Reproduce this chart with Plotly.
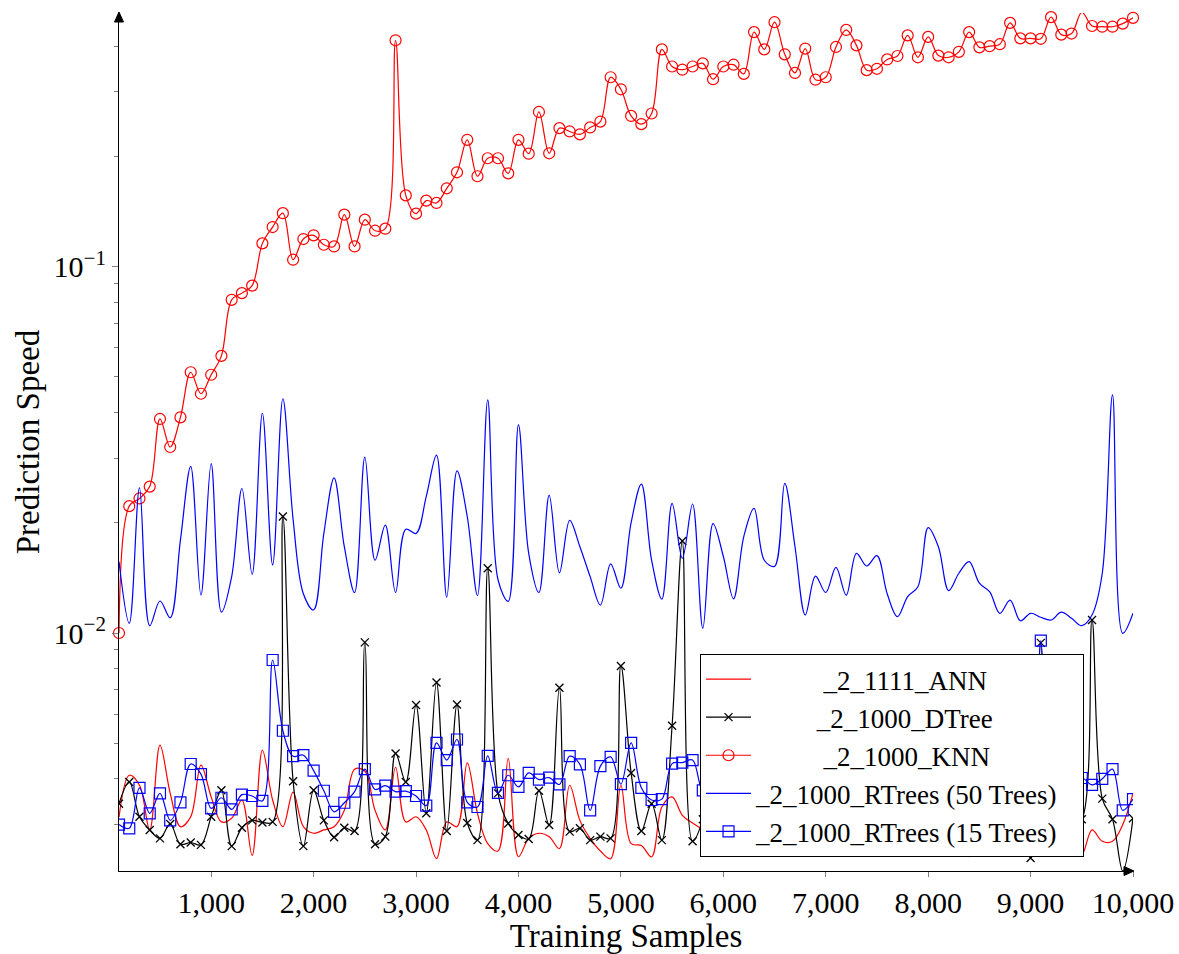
import plotly.graph_objects as go

# ---------------- data ----------------
samples = list(range(100, 10001, 100))

ann = [0.00314, 0.00409, 0.00384, 0.00290, 0.00494, 0.00365, 0.00296, 0.00315, 0.00436, 0.00357,
       0.00305, 0.00312, 0.00350, 0.00247, 0.00479, 0.00350, 0.00296, 0.00368, 0.00296, 0.00284,
       0.00290, 0.00296, 0.00328, 0.00425, 0.00420, 0.00328, 0.00290, 0.00430, 0.00305, 0.00315,
       0.00290, 0.00242, 0.00305, 0.00296, 0.00442, 0.00322, 0.00266, 0.00254, 0.00455, 0.00245,
       0.00275, 0.00284, 0.00278, 0.00258, 0.00384, 0.00308, 0.00275, 0.00254, 0.00242, 0.00384,
       0.00266, 0.00263, 0.00245, 0.00335, 0.00357, 0.00318, 0.00303, 0.00293, 0.00310, 0.00290,
       0.00300, 0.00280, 0.00290, 0.00310, 0.00280, 0.00255, 0.00262, 0.00300, 0.00320, 0.00290,
       0.00260, 0.00300, 0.00310, 0.00280, 0.00250, 0.00290, 0.00310, 0.00300, 0.00320, 0.00290,
       0.00280, 0.00252, 0.00290, 0.00245, 0.00300, 0.00310, 0.00270, 0.00258, 0.00290, 0.00245,
       0.00310, 0.00290, 0.00262, 0.00300, 0.00248, 0.00290, 0.00270, 0.00270, 0.00300, 0.00365]

dtree = [0.00342, 0.00392, 0.00315, 0.00290, 0.00275, 0.00301, 0.00265, 0.00268, 0.00264, 0.00315,
         0.00372, 0.00262, 0.00294, 0.00308, 0.00304, 0.00305, 0.02080, 0.00394, 0.00262, 0.00372,
         0.00308, 0.00277, 0.00294, 0.00288, 0.00943, 0.00265, 0.00278, 0.00469, 0.00392, 0.00636,
         0.00322, 0.00733, 0.00288, 0.00638, 0.00303, 0.00272, 0.01503, 0.00365, 0.00302, 0.00281,
         0.00274, 0.00371, 0.00299, 0.00709, 0.00287, 0.00293, 0.00272, 0.00278, 0.00275, 0.00813,
         0.00415, 0.00288, 0.00342, 0.00272, 0.00558, 0.01784, 0.00270, 0.00310, 0.00455, 0.00295,
         0.00330, 0.00620, 0.00300, 0.00345, 0.00290, 0.00385, 0.00540, 0.00298, 0.00322, 0.00292,
         0.00470, 0.00315, 0.00305, 0.00360, 0.00296, 0.00580, 0.00310, 0.00335, 0.00294, 0.00410,
         0.00300, 0.00318, 0.00660, 0.00302, 0.00340, 0.00296, 0.00380, 0.00308, 0.00315, 0.00243,
         0.00940, 0.00300, 0.00330, 0.00298, 0.00310, 0.01085, 0.00353, 0.00310, 0.00224, 0.00312]

knn = [0.0100, 0.0222, 0.0233, 0.0251, 0.0384, 0.0322, 0.0388, 0.0515, 0.0450, 0.0507,
       0.0571, 0.0812, 0.0847, 0.0888, 0.1158, 0.1283, 0.1400, 0.1045, 0.1190, 0.1218,
       0.1148, 0.1136, 0.1387, 0.1136, 0.1344, 0.1254, 0.1270, 0.4150, 0.1566, 0.1396,
       0.1515, 0.1493, 0.1637, 0.1810, 0.2220, 0.1766, 0.1977, 0.1977, 0.1798, 0.2220,
       0.2035, 0.2645, 0.2040, 0.2390, 0.2340, 0.2297, 0.2400, 0.2490, 0.3290, 0.3050,
       0.2580, 0.2450, 0.2620, 0.3920, 0.3520, 0.3450, 0.3520, 0.3590, 0.3250, 0.3520,
       0.3560, 0.3360, 0.4370, 0.3920, 0.4650, 0.3800, 0.3380, 0.3940, 0.3240, 0.3290,
       0.3980, 0.4430, 0.4020, 0.3440, 0.3470, 0.3680, 0.3760, 0.4280, 0.3730, 0.4240,
       0.3770, 0.3730, 0.3860, 0.4370, 0.3970, 0.4000, 0.4050, 0.4630, 0.4200, 0.4200,
       0.4190, 0.4800, 0.4300, 0.4330, 0.4950, 0.4540, 0.4520, 0.4520, 0.4610, 0.4780]

rtrees50 = [0.01566, 0.01062, 0.02490, 0.01047, 0.01223, 0.01100, 0.01795, 0.02850, 0.01270, 0.02900,
            0.01140, 0.01425, 0.02480, 0.01446, 0.03980, 0.01534, 0.04360, 0.02040, 0.01280, 0.01156,
            0.01870, 0.02650, 0.01720, 0.01290, 0.03020, 0.01580, 0.01970, 0.01290, 0.01920, 0.01870,
            0.02360, 0.03060, 0.01252, 0.02770, 0.02080, 0.01265, 0.04330, 0.01400, 0.01220, 0.03700,
            0.01650, 0.01290, 0.02380, 0.01460, 0.02030, 0.01720, 0.01425, 0.01192, 0.01545, 0.01325,
            0.02000, 0.02550, 0.01580, 0.01238, 0.02260, 0.01600, 0.02250, 0.01030, 0.01990, 0.01620,
            0.01240, 0.01834, 0.02190, 0.01580, 0.01520, 0.02560, 0.01720, 0.01120, 0.01430, 0.01290,
            0.01510, 0.01267, 0.01650, 0.01524, 0.01626, 0.01280, 0.01108, 0.01257, 0.01338, 0.01940,
            0.01720, 0.01306, 0.01456, 0.01566, 0.01368, 0.01297, 0.01132, 0.01230, 0.01080, 0.01132,
            0.01104, 0.01085, 0.01140, 0.01097, 0.01047, 0.01120, 0.01456, 0.04470, 0.00998, 0.01132]

rtrees15 = [0.00300, 0.00293, 0.00378, 0.00322, 0.00365, 0.00308, 0.00345, 0.00439, 0.00412, 0.00332,
            0.00355, 0.00330, 0.00362, 0.00359, 0.00348, 0.00844, 0.00541, 0.00461, 0.00464, 0.00421,
            0.00371, 0.00325, 0.00344, 0.00369, 0.00425, 0.00374, 0.00383, 0.00369, 0.00370, 0.00359,
            0.00338, 0.00501, 0.00450, 0.00512, 0.00345, 0.00335, 0.00462, 0.00366, 0.00409, 0.00380,
            0.00415, 0.00398, 0.00403, 0.00386, 0.00461, 0.00438, 0.00328, 0.00433, 0.00459, 0.00387,
            0.00501, 0.00378, 0.00350, 0.00352, 0.00440, 0.00443, 0.00450, 0.00372, 0.00395, 0.00420,
            0.00362, 0.00448, 0.00405, 0.00378, 0.00430, 0.00465, 0.00392, 0.00358, 0.00410, 0.00445,
            0.00388, 0.00372, 0.00425, 0.00398, 0.00360, 0.00415, 0.00452, 0.00402, 0.00380, 0.00428,
            0.00395, 0.00370, 0.00418, 0.00440, 0.00392, 0.00365, 0.00408, 0.00432, 0.00385, 0.00375,
            0.00953, 0.00390, 0.00412, 0.00378, 0.00402, 0.00385, 0.00400, 0.00425, 0.00328, 0.00352]

series_names = ["_2_1111_ANN", "_2_1000_DTree", "_2_1000_KNN",
                "_2_1000_RTrees (50 Trees)", "_2_1000_RTrees (15 Trees)"]
name_pad = [10, 9, 10, 0, 0]

x_tick_vals = [1000, 2000, 3000, 4000, 5000, 6000, 7000, 8000, 9000, 10000]
x_tick_text = ["1,000", "2,000", "3,000", "4,000", "5,000", "6,000", "7,000", "8,000", "9,000", "10,000"]
y_tick_vals = [0.01, 0.1]
y_tick_text = ["10<sup>\u22122</sup>", "10<sup>\u22121</sup>"]
y_minor_vals = [0.003, 0.004, 0.005, 0.006, 0.007, 0.008, 0.009,
                0.02, 0.03, 0.04, 0.05, 0.06, 0.07, 0.08, 0.09,
                0.2, 0.3, 0.4]

x_range = [100, 10000]
y_range_log = [-2.6497, -0.3074]

# ---------------- styling ----------------
FONT = "Liberation Serif"
RED = "#ff0000"
BLUE = "#0000ff"
BLACK = "#000000"
TICKGRAY = "#808080"

PLOT_W = 1179 - 119 - 46
PLOT_H = 954 - 13 - 83


def label(i):
    # centre the legend texts like the reference (padding with non-breaking spaces)
    return "\u00a0" * name_pad[i] + series_names[i] + "\u00a0" * (name_pad[i] + 3)


fig = go.Figure()

fig.add_trace(go.Scatter(x=samples, y=ann, name=label(0), mode="lines",
                         line=dict(color=RED, width=1.2, shape="spline", smoothing=1)))
fig.add_trace(go.Scatter(x=samples, y=dtree, name=label(1), mode="lines+markers",
                         line=dict(color=BLACK, width=1.2, shape="spline", smoothing=1),
                         marker=dict(symbol="x-thin-open", size=8,
                                     line=dict(color=BLACK, width=1.3))))
fig.add_trace(go.Scatter(x=samples, y=knn, name=label(2), mode="lines+markers",
                         line=dict(color=RED, width=1.2, shape="spline", smoothing=1),
                         marker=dict(symbol="circle-open", size=11,
                                     line=dict(color=RED, width=1.2)),
                         cliponaxis=False))
fig.add_trace(go.Scatter(x=samples, y=rtrees50, name=label(3), mode="lines",
                         line=dict(color=BLUE, width=1.2, shape="spline", smoothing=1)))
fig.add_trace(go.Scatter(x=samples, y=rtrees15, name=label(4), mode="lines+markers",
                         line=dict(color=BLUE, width=1.2, shape="spline", smoothing=1),
                         marker=dict(symbol="square-open", size=11,
                                     line=dict(color=BLUE, width=1.2))))

tick_font = dict(family=FONT, size=30, color=BLACK)
title_font = dict(family=FONT, size=33, color=BLACK)

fig.update_layout(
    width=1179, height=954,
    margin=dict(l=119, r=46, t=13, b=83),
    paper_bgcolor="white", plot_bgcolor="white",
    font=dict(family=FONT, size=30, color=BLACK),
    showlegend=True,
    legend=dict(x=0.573, y=0.2529, xanchor="left", yanchor="top",
                bgcolor="white", bordercolor=BLACK, borderwidth=1,
                font=dict(family=FONT, size=27, color=BLACK),
                itemwidth=45, tracegroupgap=0),
    xaxis=dict(range=x_range, showgrid=False, zeroline=False, automargin=False,
               showline=True, linecolor=BLACK, linewidth=1.2,
               tickmode="array", tickvals=x_tick_vals, ticktext=x_tick_text,
               ticks="outside", ticklen=5, tickcolor=TICKGRAY, tickwidth=1,
               tickfont=tick_font,
               title=dict(text="Training Samples", font=title_font, standoff=2)),
    yaxis=dict(type="log", range=y_range_log, showgrid=False, zeroline=False, automargin=False,
               showline=True, linecolor=BLACK, linewidth=1.2,
               tickmode="array", tickvals=y_tick_vals, ticktext=y_tick_text,
               ticks="outside", ticklen=6, tickcolor=TICKGRAY, tickwidth=1,
               tickfont=tick_font,
               minor=dict(tickmode="array", tickvals=y_minor_vals, ticks="outside",
                          ticklen=4, tickcolor=TICKGRAY, tickwidth=1),
               title=dict(text="Prediction Speed", font=title_font, standoff=4)),
)

# axis arrow heads (pgfplots style "axis lines=left"), drawn as small triangles
ax_w = 4.5 / PLOT_W
ax_h = 9.0 / PLOT_H
fig.add_shape(type="path", xref="paper", yref="paper",
              path=f"M {-ax_w} {1 - ax_h} L 0 {1 + 1.0 / PLOT_H} L {ax_w} {1 - ax_h} Z",
              fillcolor=BLACK, line=dict(color=BLACK, width=1))
ah_w = 9.0 / PLOT_W
ah_h = 4.5 / PLOT_H
fig.add_shape(type="path", xref="paper", yref="paper",
              path=f"M {1 - ah_w} {-ah_h} L {1 + 1.0 / PLOT_W} 0 L {1 - ah_w} {ah_h} Z",
              fillcolor=BLACK, line=dict(color=BLACK, width=1))

fig.write_html("out.html")
